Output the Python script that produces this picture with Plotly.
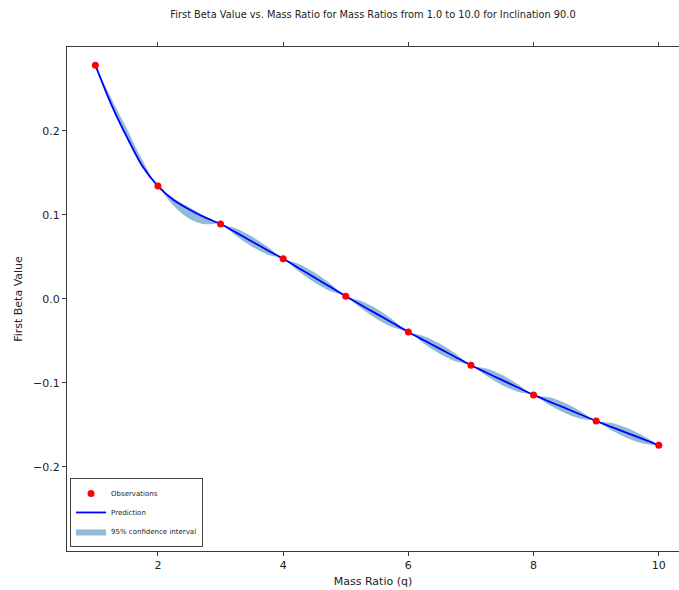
import plotly.graph_objects as go

# Observations
x_obs = [1, 2, 3, 4, 5, 6, 7, 8, 9, 10]
y_obs = [0.278, 0.134, 0.0889, 0.0475, 0.003, -0.0396, -0.0793, -0.1146, -0.1456, -0.1745]

# Prediction grid
x_pred = [1.0, 1.25, 1.5, 1.75, 2.0, 2.25, 2.5, 2.75, 3.0, 3.25, 3.5, 3.75, 4.0,
          4.25, 4.5, 4.75, 5.0, 5.25, 5.5, 5.75, 6.0, 6.25, 6.5, 6.75, 7.0,
          7.25, 7.5, 7.75, 8.0, 8.25, 8.5, 8.75, 9.0, 9.25, 9.5, 9.75, 10.0]
y_pred = [0.278, 0.232, 0.193, 0.158, 0.134, 0.1175, 0.1062, 0.0967, 0.0889,
          0.0786, 0.0681, 0.0577, 0.0475, 0.0363, 0.0252, 0.0141, 0.0030,
          -0.0078, -0.0184, -0.0290, -0.0396, -0.0496, -0.0595, -0.0694, -0.0793,
          -0.0882, -0.0970, -0.1058, -0.1146, -0.1225, -0.1301, -0.1379, -0.1456,
          -0.1529, -0.1601, -0.1673, -0.1745]
ci_upper = [0.278, 0.239, 0.203, 0.165, 0.134, 0.1195, 0.1087, 0.0982, 0.0889,
            0.0836, 0.0741, 0.0617, 0.0475, 0.0413, 0.0312, 0.0181, 0.0030,
            -0.0028, -0.0124, -0.0250, -0.0396, -0.0446, -0.0535, -0.0654, -0.0793,
            -0.0832, -0.0910, -0.1018, -0.1146, -0.1175, -0.1241, -0.1339, -0.1456,
            -0.1479, -0.1541, -0.1633, -0.1745]
ci_lower = [0.278, 0.231, 0.191, 0.156, 0.134, 0.1105, 0.0952, 0.0887, 0.0889,
            0.0746, 0.0621, 0.0527, 0.0475, 0.0323, 0.0192, 0.0091, 0.0030,
            -0.0118, -0.0244, -0.0340, -0.0396, -0.0536, -0.0655, -0.0744, -0.0793,
            -0.0922, -0.1030, -0.1108, -0.1146, -0.1265, -0.1361, -0.1429, -0.1456,
            -0.1569, -0.1661, -0.1723, -0.1745]

x_ticks = [2, 4, 6, 8, 10]
y_ticks = [-0.2, -0.1, 0.0, 0.1, 0.2]

FONT = "DejaVu Sans"
AX = "#3a3a3a"

fig = go.Figure()
fig.add_trace(go.Scatter(x=x_pred, y=ci_lower, mode="lines",
                         line=dict(width=0, shape="spline", smoothing=1.0),
                         showlegend=False, hoverinfo="skip"))
fig.add_trace(go.Scatter(x=x_pred, y=ci_upper, mode="lines", fill="tonexty",
                         fillcolor="rgba(31,119,180,0.5)",
                         line=dict(width=0, shape="spline", smoothing=1.0),
                         name="95% confidence interval"))
fig.add_trace(go.Scatter(x=x_pred, y=y_pred, mode="lines",
                         line=dict(color="#0000ff", width=1.8, shape="spline", smoothing=0.8),
                         name="Prediction"))
fig.add_trace(go.Scatter(x=x_obs, y=y_obs, mode="markers",
                         marker=dict(color="#ff0000", size=7),
                         name="Observations"))

fig.update_layout(
    width=679, height=590,
    margin=dict(l=67, r=0, t=47, b=39),
    paper_bgcolor="white", plot_bgcolor="white",
    font=dict(family=FONT, color="#222", size=11),
    title=dict(text="First Beta Value vs. Mass Ratio for Mass Ratios from 1.0 to 10.0 for Inclination 90.0",
               x=0.5, xref="paper", xanchor="center", y=0.976, yanchor="middle",
               font=dict(size=9.8, family=FONT, color="#222")),
    legend=dict(x=0.005, y=0.008, xanchor="left", yanchor="bottom",
                bgcolor="white", bordercolor="#444", borderwidth=1,
                font=dict(size=7, family=FONT, color="#222"),
                traceorder="reversed", tracegroupgap=0, itemwidth=30),
    showlegend=True,
)
fig.update_xaxes(range=[0.547, 10.323], tickvals=x_ticks, ticktext=[str(v) for v in x_ticks],
                 showgrid=False, zeroline=False, showline=True, linecolor=AX, linewidth=1,
                 mirror="ticks", ticks="outside", ticklen=4, tickcolor=AX,
                 title=dict(text="Mass Ratio (q)", standoff=6, font=dict(size=11)))
fig.update_yaxes(range=[-0.3004, 0.2996], tickvals=y_ticks, tickformat=".1f",
                 showgrid=False, zeroline=False, showline=True, linecolor=AX, linewidth=1,
                 mirror=False, ticks="outside", ticklen=4, tickcolor=AX,
                 title=dict(text="First Beta Value", standoff=8, font=dict(size=11)))

fig.write_html("out.html")
